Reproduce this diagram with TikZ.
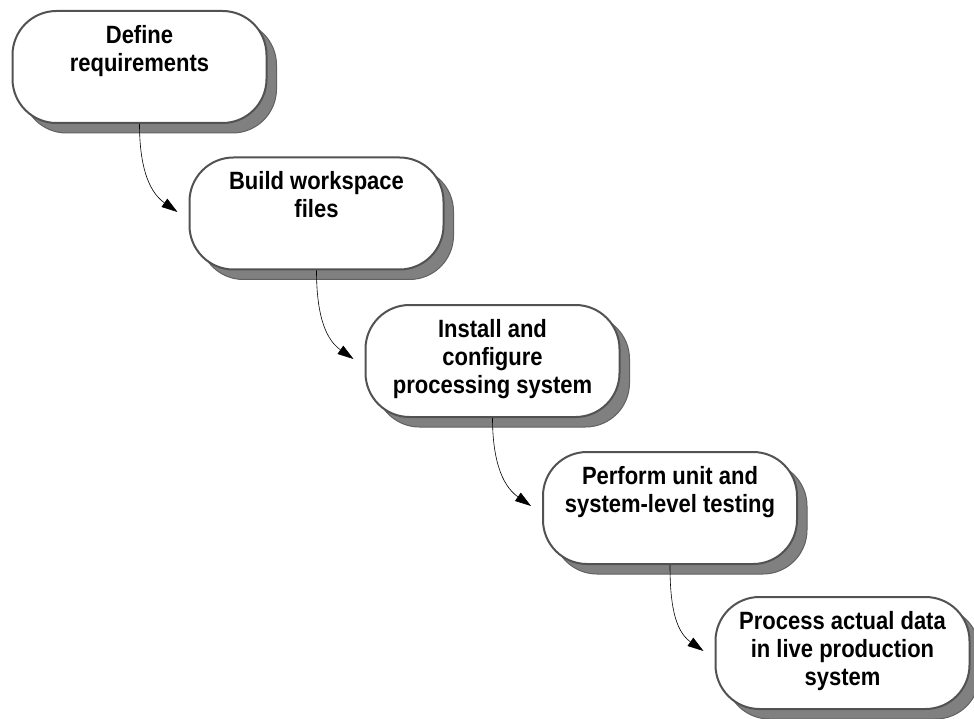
\documentclass[tikz,border=0pt]{standalone}
\usepackage{fontspec}
\setmainfont{Liberation Sans}[FakeStretch=0.88]
\usetikzlibrary{shadows,arrows.meta,calc}
\begin{document}
\begin{tikzpicture}[x=1pt,y=-1pt,
  box/.style={draw=black!68, line width=2pt, fill=white, rounded corners=44pt,
    minimum width=254pt, minimum height=112pt, inner sep=0pt,
    drop shadow={shadow xshift=10pt, shadow yshift=-10pt, fill=black!50, draw=black!62, line width=1pt, opacity=1}},
  lbl/.style={anchor=north, align=center, inner sep=0pt, font=\fontsize{25}{28}\selectfont\bfseries},
  conn/.style={black, line width=0.6pt, -{Triangle[length=16pt,width=10pt]}}]
\useasboundingbox (0,0) rectangle (974,719);
\node[box] (b1) at (139.5,67) {};
\node[box] (b2) at (316.5,213.5) {};
\node[box] (b3) at (492.5,361) {};
\node[box] (b4) at (670,508) {};
\node[box] (b5) at (842.5,653) {};
\node[lbl] (t1) at ($(b1.north)+(0,15)$) {Define\\requirements};
\node[lbl] (t2) at ($(b2.north)+(0,15)$) {Build workspace\\files};
\node[lbl] (t3) at ($(b3.north)+(0,15)$) {Install and\\configure\\processing system};
\node[lbl] (t4) at ($(b4.north)+(0,15)$) {Perform unit and\\system-level testing};
\node[lbl] (t5) at ($(b5.north)+(0,15)$) {Process actual data\\in live production\\system};
\coordinate (e2) at ($(b2.west)+(-11,-1.5)$);
\coordinate (e3) at ($(b3.west)+(-11,-2)$);
\coordinate (e4) at ($(b4.west)+(-11,-2)$);
\coordinate (e5) at ($(b5.west)+(-11,-2)$);
\draw[conn] (b1.south) to[out=-90,in=145] (e2);
\draw[conn] (b2.south) to[out=-90,in=145] (e3);
\draw[conn] (b3.south) to[out=-90,in=145] (e4);
\draw[conn] (b4.south) to[out=-90,in=145] (e5);
\end{tikzpicture}
\end{document}
